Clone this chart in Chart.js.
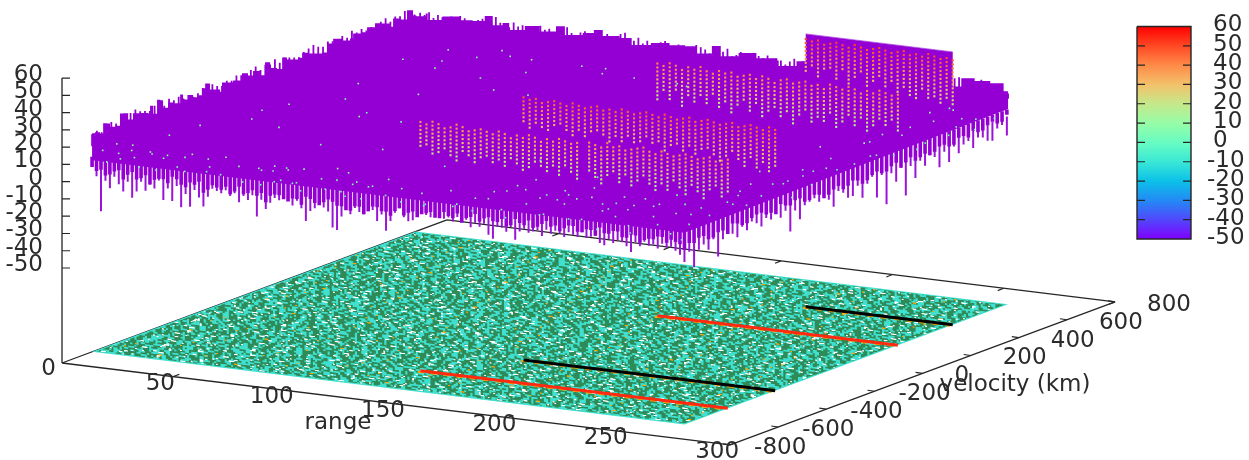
<!DOCTYPE html>
<html><head><meta charset="utf-8">
<style>html,body{margin:0;padding:0;background:#fff}canvas{display:block}</style>
<script src="https://cdn.jsdelivr.net/npm/chart.js@4"></script>
</head><body><canvas id="c" width="1249" height="460"></canvas>
<script>
// ---- tick labels ----
const zTicks=[60,50,40,30,20,10,0,-10,-20,-30,-40,-50];
const rangeTicks=[50,100,150,200,250,300];
const velocityTicks=[-800,-600,-400,-200,0,200,400,600,800];
const colorbarTicks=[60,50,40,30,20,10,0,-10,-20,-30,-40,-50];
const paletteZ=[-50,-40,-30,-20,-10,0,10,20,30,40,50,60];
const paletteRGB=[[128,0,255],[81,72,252],[35,138,245],[12,193,232],[58,232,214],[104,252,193],[151,252,167],[197,232,138],[243,193,106],[255,138,72],[255,72,36],[255,0,0]];

// ---- surface outline (velocity/range, z) ----
const leftEdgeVelocity=[-675,-663,-642,-629,-613,-600,-579,-559,-546,-525,-505,-475,-442,-434,-421,-405,-392,-380,-359,-338,-309,-297,-276,-255,-234,-218,-205,-185,-143,-135,-89,-52,-27,-6,23,44,65,94,115,135,181,198,223,252,281,302,327,368,397,410,447,468,501,530,563,576,605,634,659];
const leftEdgeZ=[21.5,21.5,19.7,25,24,21.5,21,27,26.4,21.8,24.3,23,21,25,19.7,27,26,21,23,21.5,25,21.5,23,20.6,20.7,24,26,21.5,18,23,21.8,24,21.5,23,19,25.4,21,19,24.6,22.3,21,23,21.3,19.7,18.9,23,24.4,21.3,21,23.2,21.9,23.8,24.4,22.8,19.1,23.2,21.2,25,20.7];
const backEdgeRange=[0,4.5,5.4,12,20,25.6,31,34.6,39,42,49,55.7,63,67,75,80,84,91.6,97,106,114,121,126,133,137,145,153,162,163,171,205,240,245,251,258,264,266];
const backEdgeZ=[19.7,22,18.3,21.5,20.5,21,24.7,20,21.9,18.3,21.8,19.7,23.8,19.4,21.8,24.4,21.5,21.5,18.3,21,20.9,21.5,18,23.5,18.2,21.3,19.6,19.7,16.6,20.7,20,17,22.5,21.9,21.7,18,17];
const frontSpikeZ=[3,-3,-23,-5,-9,-2,-6,-10,-4,-13,-9,-3,-8,-4,-6,-1,-12,-5,-12,-3,-15,-7,-14,-4,-8,-13,-7,-2,-3,-4,-2,-5,-3,-8,-4,-6,-3,-15,-5,-10,-6,-3,-4,-2,-3,-6,-3,-7,-14,-8,-6,-3,-5,-7,-16,-17,-9,-4,-7,-3,-5,-6,-4,-3,-9,-5,-14,-8,-3,0,-5,-7,-6,-3,-1,-2,-3,2,-1,-3,-2,-4,-1,-3,-2,-6,-3,-5,-3,-9,-11,-4,-4,-6,-3,-10,-5,-3,-5,-4,-3,-6,-2,-4,-2,-3,-5,-2,-3,-4,-1,-4,-3,-2,-6,-7,-3,-5,-3,-4,-6,-9,-3,-5,-2,-4,-3,-5,-2,-4,-3,-5,-7,-11];
const rightSpikeZ=[-11,-6,-16,-7,-5,-9,-4,-15,-6,-3,-5,-8,-3,-6,-2,-4,-7,-3,-5,-2,-6,-3,-16,-5,-11,-4,-3,-2,-5,-2,-6,-11,-3,-5,-9,-9,-4,-12,-5,-2,-15,-3,-21,-4,-10,-3,-20,-4,-12,-3,-7,-2,-4,-11,-3,-10,-2,-7,-3,-2,-7,-2,-3,-6,-7,-1,0,-7];
// solid lower fringe, one value per 4 range units / 40 velocity units, two staggered rows
const frontFringeZ=[2,1,-1,2,0,-2,1,-1,0,2,-2,0,1,-3,-1,0,-2,-3,0,-1,-2,-1,-4,-2,0,-3,-2,-1,-3,-5,-2,-4,-1,-3,-2,-4,-1,-2,0,-3,-1,1,-1,2,0,-1,1,-2,0,2,-1,3,1,0,2,-1,1,3,0,2,-1,1,-1,0,2,1,-1];
const frontFringe2Z=[0,-2,1,-3,2,-1,-4,0,-2,1,-3,-1,-5,0,-2,-4,1,-2,-3,-6,-1,-3,-2,-5,-1,-4,0,-3,-5,-2,-6,-1,-3,-5,0,-2,-4,-1,-3,1,-2,-4,0,-2,1,-1,-3,2,-1,-2,1,0,-2,2,-1,1,-2,0,2,-1,1,-3,0,2,-1,0,-4];
const rightFringeZ=[1,-2,0,-3,-1,1,-2,0,1,-1,2,-1,1,-2,-1,-3,0,-2,-1,-3,0,-2,1,-1,-2,0,-1,1,-1,2,3,1,4,2];
const rightFringe2Z=[-1,0,-3,-1,-4,0,-2,1,-1,-3,0,1,-2,0,-4,-1,-3,0,-4,-1,-2,0,-3,1,-1,-2,1,-1,2,0,1,3,2,5];
// fine bumps along the far top edges, per 20 velocity units / 2 range units
const leftTopZ=[21,22,20,23,24,22,23,21,25,26,24,23,22,24,23,22,25,23,24,22,23,21,22,24,25,24,22,21,23,22,24,23,22,24,25,22,24,23,25,22,24,23,22,21,23,24,25,23,22,24,23,21,24,22,25,23,24,22,23,22,24,25,22,24,23,25,22,21];
const backTopZ=[20,22,21,23,20,22,21,20,22,21,23,22,20,21,22,23,20,22,25,22,21,20,23,21,22,20,21,19,23,21,22,20,21,22,24,21,20,22,23,21,20,22,21,23,22,20,24,25,22,21,23,20,22,21,19,22,23,20,21,22,19,21,20,23,22,21,19,22,20,21,23,19,20,22,21,20,19,21,20,22,19,21,20,18,20,22,19,21,20,18,21,19,20,22,20,19,21,18,20,19,21,20,18,20,19,21,19,20,18,21,20,19,21,20,18,20,22,21,23,22,20,22,23,21,20,22,21,23,20,21,19,20,18,17];

// ---- four strong targets ----
const bandVelocity=[-495,-298,212,440];
const bandRangeStart=[128,153,158,200];
const bandRangeEnd=[266,266,266,266];
const bandWallTop=[40,47,41,53];
const bandFloorColor=['#ff2a10','#000000','#ff2a10','#000000'];
const band1Top=[39,38,40,39,37,38,40,39,37,38,39,38,37,39,38,36,38,37,39,38,36,38,37,39,38,37,38,null,39,38,37,40,38,39,37,38,39,40,38,37,39,38,37,38,39,38,37,38,39,37,38,39];
const band1Bottom=[24,26,20,22,25,21,19,24,22,18,21,24,20,22,19,23,21,17,20,24,22,19,21,18,23,20,17,null,22,19,15,20,23,17,21,16,19,22,18,15,20,17,22,19,16,21,18,15,20,22,17,20];
const band2Top=[47,46,47,45,46,47,46,45,47,46,45,46,47,45,46,45,47,46,45,46,47,46,45,47,46,45,46,47,45,46,47,46,45,46,47,45,46,47,46,45,47,46];
const band2Bottom=[32,29,33,30,28,31,33,29,27,31,28,30,32,29,27,31,28,30,27,29,31,28,30,26,28,31,27,29,25,28,30,26,24,27,30,25,22,27,21,25,20,24];
const band3Top=[41,40,42,41,39,41,40,42,40,39,41,40,41,39,40,41,39,41,40,38,40,41,39,40,41,39,40,38,41,40,39,41,40,38,40,39,41,40,39,40];
const band3Bottom=[20,24,21,25,18,23,20,24,21,26,19,23,17,22,25,19,23,16,21,24,18,22,16,20,24,17,21,19,23,16,20,24,18,22,15,19,23,21,25,18];
const band4Top=[50,49,50,48,49,50,49,48,50,49,48,49,50,49,48,49,50,48,49,48,50,49,48,49,48];
const band4Bottom=[30,34,28,32,35,29,33,27,31,34,26,30,33,27,31,24,29,25,22,28,23,26,21,25,22];

// ---- isolated bright samples on the surface ----
const speckRange=[1,3,5,6,8,10,12,14,17,19,21,24,26,29,32,35,38,40,43,46,49,52,55,60,66,68,70,71,73,75,76,78,80,82,84,86,88,92,96,100,102,104,106,108,110,112,114,116,118,120,124,128,132,136,140,144,148,152,156,160,
164,168,172,176,180,184,188,192,196,200,204,208,212,216,220,224,228,232,236,240,244,248,252,256,260,262,166,178,190,202,214,226,238,250,170,182,194,206,218,230,242,254,174,186,198,210,222,234,246,258,
262,255,248,260,252,244,264,258,250,242,262,256,246,260,252,244,264,254,248,240,262,256,250,260,246,264,254,242,258,248,262,252,260,246,264,256,250,258,244,262,
8,15,22,30,38,45,52,60,68,75,18,28,40,55,70,85,100,5,12,25,35,50,65,80,95,110,125,140,20,42,60,90,120,150,180];
const speckVelocity=[-640,-600,-660,-620,-580,-650,-610,-640,-590,-655,-620,-600,-650,-630,-585,-645,-610,-660,-590,-625,-640,-600,-650,-620,-660,-600,-630,-580,-650,-610,-570,-640,-600,-650,-620,-590,-640,-660,-610,-580,-650,-620,-590,-640,-610,-660,-630,-600,-650,-620,-590,-640,-610,-650,-600,-630,-660,-590,-620,-640,
-600,-650,-620,-580,-640,-660,-610,-590,-630,-650,-600,-620,-560,-640,-590,-650,-610,-570,-630,-660,-600,-620,-580,-640,-600,-650,-540,-520,-500,-530,-510,-540,-520,-500,-480,-470,-490,-460,-480,-470,-450,-460,-440,-430,-420,-440,-430,-410,-420,-400,
-380,-350,-330,-300,-270,-240,-210,-190,-160,-140,-110,-90,-60,-30,-10,20,50,70,100,130,160,190,220,250,280,310,340,370,400,430,460,490,510,530,550,570,590,610,630,650,
-300,-150,-60,100,-250,50,200,-120,-20,300,450,520,380,430,480,350,520,-400,-80,200,600,600,550,620,580,560,600,500,620,640,-280,-300,-320,-200,-240];
const speckZ=[10,12,5,8,11,7,6,12,9,4,10,7,3,11,8,6,12,5,9,4,8,12,5,9,3,7,10,6,2,11,8,4,9,6,3,10,5,2,7,12,4,8,11,3,6,2,9,5,1,7,10,4,7,2,5,0,3,8,1,4,
6,2,8,11,4,1,7,10,3,5,9,2,12,4,7,0,6,11,3,1,8,5,10,2,6,0,7,9,4,8,3,6,10,5,8,4,7,2,9,5,7,3,10,5,8,2,6,9,4,7,
6,9,3,7,11,4,2,8,5,10,4,7,1,9,5,3,8,2,6,10,7,4,9,2,6,3,8,5,1,7,3,8,5,10,2,6,9,4,7,3,
8,5,10,6,9,3,7,12,5,8,9,6,11,5,8,4,10,7,6,9,5,8,11,6,9,7,4,10,6,8,4,7,3,5,2];

// ---- floor texture rows: . turquoise  g sea green ----
const floorRows=[
"ggg..gggg...gg...ggg....ggggg..g...gg",
"..gggg...ggg..ggg......gg...gggg.ggg...g",
"g....ggg.gg.....gggg.ggg..g...ggg..gg.g.gg",
"ggg.g...gggg.ggg..g....ggg...ggg...gg..",
".ggg.....g...gg.gggg..ggg.g..ggggg...ggg.gg",
"gg..ggg.gggg...g.ggg.....gg.ggg..",
"...gggg.g..gggg.....ggg.ggggg.g...ggg..gg",
"gg....gggg..ggg.gg.g...gggg.....ggg.ggg.gg.g",
".gggg..g...gg.gggg.ggg..g.ggg...gg..g",
"ggg.ggg.....gg...ggggg..gg....ggg..gg.gg...",
"..g...gggg.ggg.g..gggg...ggg.g...ggg",
"gggg..gg...ggg......gg.gggg...g.ggggg..g.",
"g..ggg.ggggg...gg.g..ggg...gggg.g...gg.gggg",
"...gg..g..gggg.ggg...gg.gggg..ggg...g.",
"ggggg.ggg...g...gggg.g..ggg.gg....ggg.ggg..",
"..ggg...gggg.gg..g...ggggg..g.ggg.",
"gg......gg.ggg...ggg.gg...gggg...gggg.g..gg",
"g.gggg...ggg..g.gggg...g.ggg....gg.",
"..gg.ggggg.g...ggg..gggg.g...ggggg.gg...gg",
"ggg...g..ggg.....g.ggg...ggg.gg..g.ggg",
".gggg.gg...gggg...gg.ggggg...g.gg",
"gg..ggg.ggg.g..gggg....gg.ggg...gggg..g.ggg",
"...ggg...gggg.gg...ggg.g...gggg.ggg.g.",
"ggg.g.gg.....ggg.ggggg..ggg..g...gg.gggg.",
"g..gggg.ggg.gg...g...gggg.ggg....gg",
".ggg...gg..ggggg.ggg.gg...g..gggg.gg...ggg.",
"gg.gg.ggg...g..g..g.gggg.ggg...gg.gg",
"..gggg..gggg.ggg...gg...ggg.ggggg.g..ggg.",
"ggg...ggg.g.....gggg.ggg...g.gg...gggg.g.ggg",
"g.ggg.gg...gggg...g.gggg.gg..ggg.",
".gg..gggg.ggg.g.ggg...gg...gggg.g..gg.ggg",
"gggg.g...gg.gggg..ggg.ggg...gg...ggg.gg",
"..ggg.ggg...g.gg.gggg...ggg.ggggg..g.gg.gg.",
"gg...gggg...ggg...g.ggg.gg...ggg.",
"g.gggg..gg.ggggg.ggg..g...gggg.gg...ggg.g",
".ggg.ggg...g...ggg.gggg.ggg..g.gggg..",
"ggg.g.gggg.ggg.g...gg...ggggg.g..ggg.gg..gg"
];
// white holes and orange samples laid over the floor: w white  o orange
const floorSpeckRows=[
"      ww            w                     ",
"                ww            o           w    ",
"  w                     www                 ",
"           w                  w       ww    ",
"                                    ",
"   ww             w      o              w     ",
"            www                 w               ",
"       w                   ww           ",
"  o             w                    www     ",
"                         w     w           ",
"      www            w                       ",
"                                  ww     o   ",
"  w         ww                w              ",
"                  w        www         ",
"        w                            w   ",
"  ww                 oo        w          ",
"              ww                      ww     ",
"     w                  w        ",
"                             www         w  ",
"   www          w                              ",
"             w          ww         o         ",
"                                w       ",
"  w      ww                w                ",
"                www                    w      "
];

// ---- view: how data coordinates land on the page ----
const view={ox:62,oy:363,rx:2.227,ry:0.273,vx:0.2406,vy:-0.0894,zy:1.727,vMin:-800,zBase:-105};
const floorV=[-675,670], floorR=[0,266];
const bodyBaseZ=2;
function P(r,v,z){return {x:view.ox+view.rx*r+view.vx*(v-view.vMin), y:view.oy+view.ry*r+view.vy*(v-view.vMin)-view.zy*(z-view.zBase)};}
const GAP={x:NaN,y:NaN};
function segs(list){const o=[];list.forEach(s=>{o.push(s[0],s[1],GAP)});return o;}
function steps(list){const o=[];list.forEach((p,i)=>{if(i)o.push({x:p.x,y:list[i-1].y});o.push(p);});return o;}

function palette(z){
  const n=paletteZ.length; if(z>=60)return 'rgb(255,0,0)'; if(z<=-50)z=-50;
  let k=0; while(k<n-2&&z>paletteZ[k+1])k++;
  const t=(z-paletteZ[k])/(paletteZ[k+1]-paletteZ[k]);
  const c=paletteRGB[k].map((a,j)=>Math.round(a+(paletteRGB[k+1][j]-a)*t));
  return `rgb(${c[0]},${c[1]},${c[2]})`;
}

const canvas=document.getElementById('c');
const ctx0=canvas.getContext('2d');
const FB=view.zBase;
const AXC='#262626';
const PURPLE='#9400d3';

function tilePattern(rowsList,base,shift,repeats,matrix){
  const colW=1200,rows=rowsList.length*repeats;
  const t=document.createElement('canvas');t.width=colW*2;t.height=rows*2;
  const c=t.getContext('2d');
  if(base){c.fillStyle=base;c.fillRect(0,0,t.width,t.height);}
  const cols={g:'#2e8b57',w:'#ffffff',o:'#ffa500'};
  for(let y=0;y<rows;y++){
    const row=rowsList[y%rowsList.length],off=Math.floor(y/rowsList.length)*shift;
    for(let x=0;x<colW;x++){const ch=row[(x+off)%row.length];if(cols[ch]){c.fillStyle=cols[ch];c.fillRect(x*2,y*2,2,2);}}
  }
  const p=ctx0.createPattern(t,'repeat');
  p.setTransform(new DOMMatrix(matrix));
  return p;
}

const cb={x0:1137,x1:1191,top:26.5,bottom:239};
const cbY=z=>cb.top+(60-z)*(cb.bottom-cb.top)/110;
function cbGradient(){
  const g=ctx0.createLinearGradient(0,cbY(-50),0,cbY(60));
  paletteZ.forEach((z,i)=>g.addColorStop(i/(paletteZ.length-1),`rgb(${paletteRGB[i].join(',')})`));
  return g;
}

const ds=[];
function add(d){d.order=-ds.length;d.clip=false;d.pointRadius=d.pointRadius||0;d.showLine=d.showLine!==false;ds.push(d);}
function line(data,color,width,extra){add(Object.assign({data,borderColor:color,borderWidth:width,fill:false,tension:0,borderCapStyle:'butt'},extra||{}));}
function poly(data,fillc,border,width){add({data,backgroundColor:fillc,borderColor:border||'transparent',borderWidth:width||0,fill:'shape',tension:0});}

// axes
const A=P(0,-800,FB),B=P(300,-800,FB),C=P(300,800,FB),D=P(0,800,FB);
const zAxisTop={x:A.x,y:P(0,-800,60).y};
line(segs([[A,B],[B,C],[C,D],[D,A],[A,zAxisTop]]),AXC,1.3);
const axisTicks=[];
zTicks.forEach(z=>{const p=P(0,-800,z);axisTicks.push([p,{x:p.x+8,y:p.y}]);});
rangeTicks.forEach(r=>{const p=P(r,-800,FB);axisTicks.push([p,{x:p.x+6,y:p.y-2.4}]);const q=P(r,800,FB);axisTicks.push([q,{x:q.x-6,y:q.y+2.4}]);});
velocityTicks.forEach(v=>{const p=P(300,v,FB);axisTicks.push([p,{x:p.x-7,y:p.y-1}]);});
line(segs(axisTicks),AXC,1.2);

// floor
const floorPoly=(r0,r1,v0,v1)=>[P(r0,v0,FB),P(r1,v0,FB),P(r1,v1,FB),P(r0,v1,FB)];
poly(floorPoly(floorR[0],floorR[1],floorV[0],floorV[1]),'#40e0d0');
poly(floorPoly(floorR[0]+1,floorR[1]-1,floorV[0]+10,floorV[1]-8),tilePattern(floorRows,'#40e0d0',13,8,[1.05,0.129,0,0.85,0,0]));
poly(floorPoly(floorR[0]+1,floorR[1]-1,floorV[0]+10,floorV[1]-8),tilePattern(floorSpeckRows,null,17,10,[0.9,0.11,0,0.6,0,0]));
bandVelocity.forEach((v,i)=>{
  line([P(bandRangeStart[i],v-11,FB),P(bandRangeEnd[i],v-11,FB)],'#ffa500',2,{borderDash:[6,7]});
  line([P(bandRangeStart[i],v,FB),P(bandRangeEnd[i],v,FB)],bandFloorColor[i],3);
});

// spikes under the surface
const spikes=[];
frontSpikeZ.forEach((z,i)=>spikes.push([P(i*2,floorV[0],bodyBaseZ+2),P(i*2,floorV[0],z)]));
rightSpikeZ.forEach((z,i)=>spikes.push([P(floorR[1],floorV[0]+20*i,bodyBaseZ+2),P(floorR[1],floorV[0]+20*i,z)]));
line(segs(spikes),'#9a14d8',2);
const fringe=[];
frontFringeZ.forEach((z,i)=>fringe.push([P(i*4,floorV[0],bodyBaseZ+6),P(i*4,floorV[0],z)]));
frontFringe2Z.forEach((z,i)=>fringe.push([P(i*4+2,floorV[0],bodyBaseZ+6),P(i*4+2,floorV[0],z)]));
rightFringeZ.forEach((z,i)=>fringe.push([P(floorR[1],floorV[0]+40*i,bodyBaseZ+6),P(floorR[1],floorV[0]+40*i,z)]));
rightFringe2Z.forEach((z,i)=>fringe.push([P(floorR[1],floorV[0]+40*i+20,bodyBaseZ+6),P(floorR[1],floorV[0]+40*i+20,z)]));
line(segs(fringe),PURPLE,3.6);

// surface body
const outline=[];
leftEdgeVelocity.forEach((v,i)=>outline.push(P(floorR[0],v,leftEdgeZ[i])));
backEdgeRange.forEach((r,i)=>outline.push(P(r,floorV[1],backEdgeZ[i])));
const outlineStep=steps(outline);
poly(outlineStep.concat([P(floorR[1],floorV[1],8),P(floorR[1],floorV[0],bodyBaseZ+4),P(floorR[0],floorV[0],bodyBaseZ+4)]),PURPLE);
const bumps=[];
leftTopZ.forEach((z,i)=>bumps.push([P(floorR[0],floorV[0]+20*i,14),P(floorR[0],floorV[0]+20*i,z)]));
backTopZ.forEach((z,i)=>bumps.push([P(i*2,floorV[1],14),P(i*2,floorV[1],z)]));
line(segs(bumps),PURPLE,1.8);

// raised walls of the four targets
bandVelocity.forEach((v,i)=>{
  poly([P(bandRangeStart[i],v,bandWallTop[i]),P(bandRangeEnd[i],v,bandWallTop[i]),P(bandRangeEnd[i],v,8),P(bandRangeStart[i],v,8)],PURPLE);
});
line([P(bandRangeStart[3],bandVelocity[3],bandWallTop[3]),P(bandRangeEnd[3],bandVelocity[3],bandWallTop[3])],'rgba(170,70,225,.7)',1);

// target sample columns
const bandTops=[band1Top,band2Top,band3Top,band4Top], bandBottoms=[band1Bottom,band2Bottom,band3Bottom,band4Bottom];
const sampleStepZ=2.3;
const pts=[],cols=[];
bandVelocity.forEach((v,b)=>{
  const tops=bandTops[b],bots=bandBottoms[b];
  tops.forEach((t,k)=>{
    if(t===null)return;
    const r=bandRangeStart[b]+(bandRangeEnd[b]-bandRangeStart[b])*k/(tops.length-1);
    for(let z=t;z>=bots[k];z-=sampleStepZ){pts.push(P(r,v,z));cols.push(palette(z));}
  });
});
add({data:pts,showLine:false,pointStyle:'rect',pointRadius:1.5,pointBorderWidth:0,pointBackgroundColor:cols});

// isolated samples
const sp=[],spc=[];
speckRange.forEach((r,i)=>{if(speckVelocity[i]===undefined||speckZ[i]===undefined)return;sp.push(P(r,speckVelocity[i],speckZ[i]));spc.push(palette(speckZ[i]));});
add({data:sp,showLine:false,pointStyle:'rect',pointRadius:1.15,pointBorderWidth:0,pointBackgroundColor:spc});

// colour bar
const cbRect=[{x:cb.x0,y:cbY(60)},{x:cb.x1,y:cbY(60)},{x:cb.x1,y:cbY(-50)},{x:cb.x0,y:cbY(-50)},{x:cb.x0,y:cbY(60)}];
poly(cbRect,cbGradient(),'#262626',1.4);
const cbTickSegs=[];
colorbarTicks.slice(1,-1).forEach(z=>{const y=cbY(z);cbTickSegs.push([{x:cb.x0,y},{x:cb.x0+8,y}],[{x:cb.x1-8,y},{x:cb.x1,y}]);});
line(segs(cbTickSegs),'#262626',1.2);

// text
const FONT='23px "DejaVu Sans"';
const labelPlugin={id:'labels',afterDatasetsDraw(chart){
  const c=chart.ctx,X=v=>chart.scales.x.getPixelForValue(v),Y=v=>chart.scales.y.getPixelForValue(v);
  c.save();c.font=FONT;c.fillStyle='#2b2b2b';c.textBaseline='middle';
  const T=(s,x,y,al)=>{c.textAlign=al;c.fillText(s,X(x),Y(y));};
  zTicks.forEach(z=>{const p=P(0,-800,z);T(String(z),p.x-19,p.y-3,'right');});
  T('0',A.x-6,A.y+6,'right');
  rangeTicks.forEach(r=>{const p=P(r,-800,FB);T(String(r),p.x-13,p.y+7,'center');});
  velocityTicks.forEach(v=>{const p=P(300,v,FB);T(String(v),p.x+(v<0?24:32),p.y+3,'left');});
  colorbarTicks.forEach(z=>{T(String(z),z<0?1207:1213,cbY(z)-1,'left');});
  T('range',338,423,'center');
  T('velocity (km)',1015,385,'center');
  c.restore();
}};

new Chart(canvas,{type:'scatter',data:{datasets:ds},plugins:[labelPlugin],options:{
  responsive:false,animation:false,events:[],devicePixelRatio:1,
  layout:{padding:0,autoPadding:false},
  plugins:{legend:{display:false},tooltip:{enabled:false},title:{display:false}},
  scales:{x:{type:'linear',min:0,max:1249,display:false},y:{type:'linear',min:0,max:460,reverse:true,display:false}}
}});
</script></body></html>
